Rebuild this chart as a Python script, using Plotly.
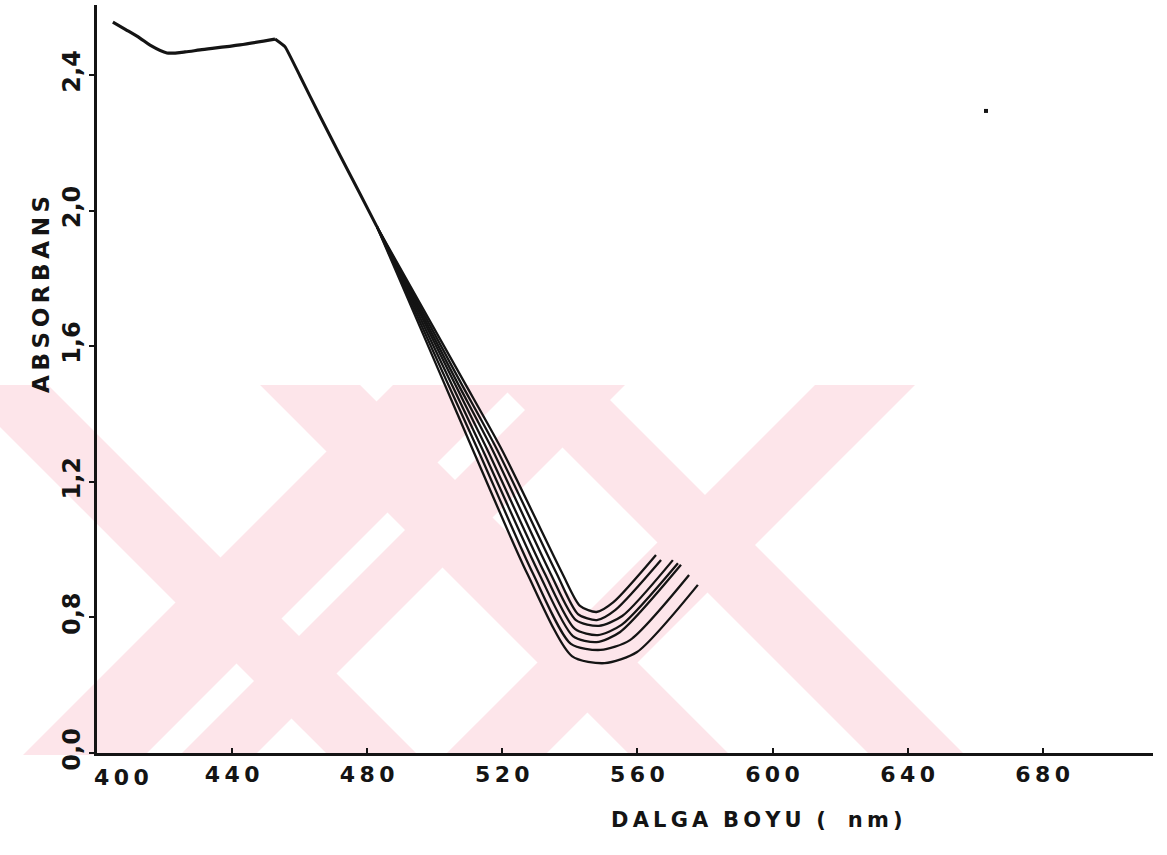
import plotly.graph_objects as go

# Upper part of the spectra, shared by every sample
plateau_nm = [404.7, 408.5, 412.7, 415.7, 420.7, 426.1, 430.5, 442.3, 452.7]
plateau_abs = [2.556, 2.534, 2.509, 2.488, 2.465, 2.468, 2.474, 2.489, 2.506]
slope_nm = [452.7, 455.7, 460.1, 466.0, 471.9, 477.9, 482.9]
slope_abs = [2.506, 2.483, 2.397, 2.279, 2.164, 2.049, 1.952]

# Descending branch: wavelength of each sample at three absorbance levels
level_abs = [1.500, 1.294, 0.931]
nm_at_level1 = [508.4, 507.3, 506.3, 505.4, 504.4, 503.4, 502.4]
nm_at_level2 = [519.9, 518.5, 517.1, 515.6, 514.2, 512.8, 511.3]
nm_at_level3 = [537.7, 536.0, 534.2, 532.5, 530.8, 529.0, 527.3]

# Bottom of each spectrum and its rising end
bend_nm = [543.0, 542.4, 541.8, 541.5, 540.9, 540.3, 540.6]
bend_abs = [0.834, 0.810, 0.792, 0.766, 0.745, 0.722, 0.686]
min_nm = [547.9, 548.0, 548.6, 548.3, 547.9, 549.1, 550.3]
min_abs = [0.816, 0.792, 0.775, 0.748, 0.727, 0.704, 0.665]
rise_nm = [552.9, 553.5, 555.5, 555.3, 554.9, 557.8, 559.9]
rise_abs = [0.845, 0.822, 0.804, 0.778, 0.757, 0.733, 0.698]
end_nm = [565.5, 567.0, 570.5, 572.0, 572.9, 575.3, 577.9]
end_abs = [0.984, 0.969, 0.969, 0.960, 0.955, 0.925, 0.896]

# stray speck on the sheet
speck_nm = [663.2]
speck_abs = [2.294]

# axis ticks
x_ticks = [440, 480, 520, 560, 600, 640, 680]
y_ticks = [0.4, 0.8, 1.2, 1.6, 2.0, 2.4]
y_tick_text = ["0,0", "0,8", "1,2", "1,6", "2,0", "2,4"]

THIN = "\u2009"
FONT = "DejaVu Sans"
INK = "#141414"
PINK = "#fde5ea"

W, H = 1167, 855
L, R, T, B = 97, 14, 5, 102
PW, PH = W - L - R, H - T - B


def spaced(s):
    return THIN.join(s)


def bold(s):
    return "<b>" + s + "</b>"


def to_paper(px, py):
    return (px - L) / PW, (H - B - py) / PH


def band(lo, hi, kind, top=385, bottom=755):
    """Diagonal strip between two 45-degree lines, in paper units.
    kind '\\': lines x - y = const ; kind '/': lines x + y = const (pixel space)."""
    if kind == "\\":
        pts = [(lo + top, top), (hi + top, top), (hi + bottom, bottom), (lo + bottom, bottom)]
    else:
        pts = [(lo - top, top), (hi - top, top), (hi - bottom, bottom), (lo - bottom, bottom)]
    pp = [to_paper(*p) for p in pts]
    return "M " + " L ".join(f"{x:.4f},{y:.4f}" for x, y in pp) + " Z"


fig = go.Figure()

fig.add_trace(go.Scatter(
    x=plateau_nm, y=plateau_abs, mode="lines",
    line=dict(color=INK, width=3.2, shape="spline", smoothing=0.8),
    hoverinfo="skip", showlegend=False))
fig.add_trace(go.Scatter(
    x=slope_nm, y=slope_abs, mode="lines",
    line=dict(color=INK, width=3.0, shape="spline", smoothing=0.3),
    hoverinfo="skip", showlegend=False))

for i in range(len(end_nm)):
    xs = [slope_nm[-1], nm_at_level1[i], nm_at_level2[i], nm_at_level3[i],
          bend_nm[i], min_nm[i], rise_nm[i], end_nm[i]]
    ys = [slope_abs[-1]] + level_abs + [bend_abs[i], min_abs[i], rise_abs[i], end_abs[i]]
    fig.add_trace(go.Scatter(
        x=xs, y=ys, mode="lines",
        line=dict(color=INK, width=2.3, shape="spline", smoothing=0.7),
        hoverinfo="skip", showlegend=False))

fig.add_trace(go.Scatter(
    x=speck_nm, y=speck_abs, mode="markers",
    marker=dict(color=INK, size=4, symbol="square"),
    hoverinfo="skip", showlegend=False))

# light background emblem made of diagonal strips
strips = [(-427, -337, "\\"), (-125, -25, "\\"), (115, 210, "\\"),
          (778, 900, "/"), (935, 1010, "/"), (1200, 1300, "/")]
shapes = [dict(type="path", path=band(lo, hi, k), xref="paper", yref="paper",
               fillcolor=PINK, line=dict(width=0), layer="below")
          for lo, hi, k in strips]

tick_font = dict(family=FONT, size=22, color=INK)
annotations = [
    dict(text=bold(spaced("400")), x=400, y=0, xref="x", yref="paper", xshift=24,
         yanchor="top", yshift=-10, showarrow=False, font=tick_font),
    dict(text=bold(spaced("ABSORBANS")), x=to_paper(26, 0)[0], y=to_paper(0, 295)[1],
         xref="paper", yref="paper", textangle=-90, showarrow=False,
         font=dict(family=FONT, size=23, color=INK)),
    dict(text=bold(spaced("DALGA") + "  " + spaced("BOYU") + "  (   " + spaced("nm)")),
         x=to_paper(757, 0)[0], y=to_paper(0, 834)[1], xref="paper", yref="paper",
         showarrow=False, font=dict(family=FONT, size=21, color=INK)),
]

fig.update_layout(
    width=W, height=H,
    margin=dict(l=L, r=R, t=T, b=B),
    paper_bgcolor="white", plot_bgcolor="white",
    shapes=shapes, annotations=annotations,
    xaxis=dict(range=[400, 712.65], showgrid=False, zeroline=False,
               showline=True, linecolor=INK, linewidth=2.5,
               tickmode="array", tickvals=x_ticks,
               ticktext=[bold(spaced(str(v))) for v in x_ticks],
               ticks="inside", ticklen=5, tickwidth=2, tickcolor=INK,
               tickfont=tick_font),
    yaxis=dict(range=[0.4, 2.6065], showgrid=False, zeroline=False,
               showline=True, linecolor=INK, linewidth=2.5,
               tickmode="array", tickvals=y_ticks,
               ticktext=[bold(t) for t in y_tick_text],
               tickangle=-90, ticks="outside", ticklen=5, tickwidth=2, tickcolor=INK,
               tickfont=dict(family=FONT, size=24, color=INK)),
)

fig.write_html("out.html")
